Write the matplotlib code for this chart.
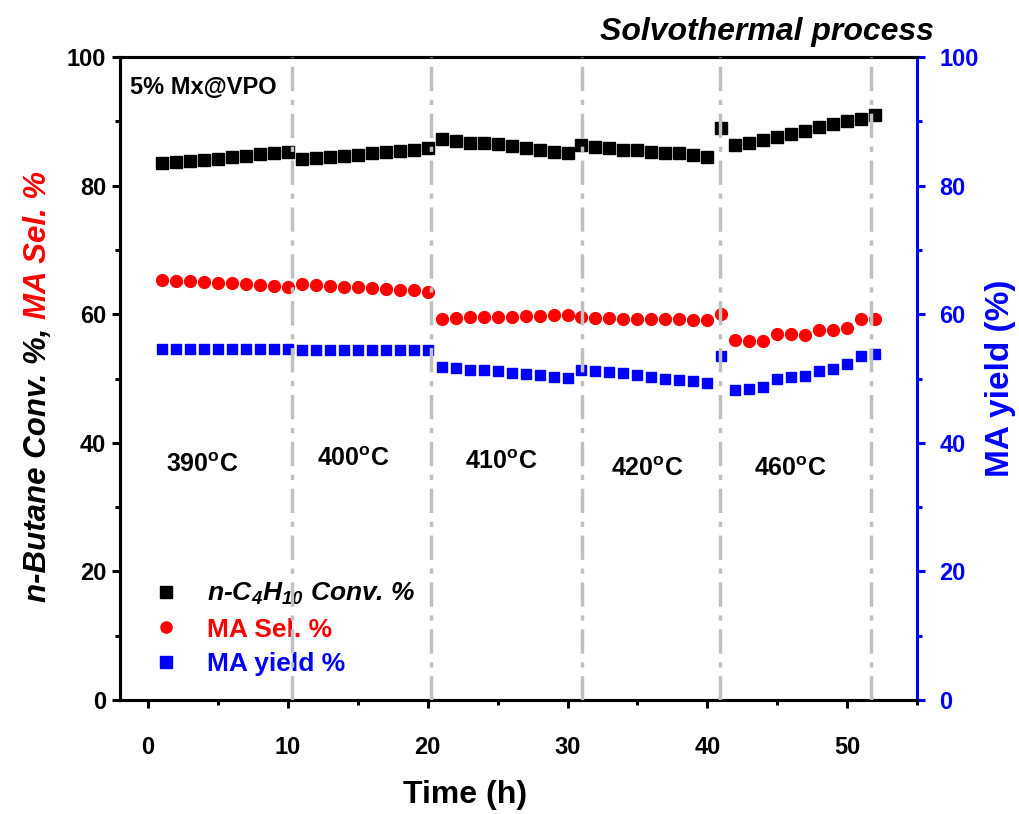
import matplotlib
matplotlib.use("Agg")
import matplotlib.pyplot as plt
from matplotlib.lines import Line2D
from matplotlib.ticker import MultipleLocator

# time on stream (h)
time_h = [1, 2, 3, 4, 5, 6, 7, 8, 9, 10,
          11, 12, 13, 14, 15, 16, 17, 18, 19, 20,
          21, 22, 23, 24, 25, 26, 27, 28, 29, 30,
          31, 32, 33, 34, 35, 36, 37, 38, 39, 40,
          41, 42, 43, 44, 45, 46, 47, 48, 49, 50, 51, 52]

conv = [83.5, 83.7, 83.9, 84.0, 84.2, 84.4, 84.6, 84.9, 85.1, 85.3,
        84.1, 84.3, 84.5, 84.6, 84.8, 85.0, 85.2, 85.4, 85.6, 85.9,
        87.2, 86.9, 86.7, 86.6, 86.4, 86.2, 85.9, 85.6, 85.3, 85.0,
        86.3, 86.0, 85.8, 85.6, 85.5, 85.3, 85.1, 85.0, 84.8, 84.5,
        88.9, 86.3, 86.7, 87.1, 87.6, 88.0, 88.5, 89.1, 89.6, 90.1, 90.3, 90.9]

sel = [65.3, 65.2, 65.1, 65.0, 64.9, 64.8, 64.7, 64.6, 64.4, 64.3,
       64.7, 64.5, 64.4, 64.3, 64.2, 64.0, 63.9, 63.8, 63.7, 63.5,
       59.3, 59.4, 59.5, 59.5, 59.6, 59.6, 59.7, 59.7, 59.8, 59.8,
       59.5, 59.4, 59.4, 59.3, 59.3, 59.2, 59.2, 59.2, 59.1, 59.1,
       60.1, 56.0, 55.9, 55.9, 56.9, 56.9, 56.8, 57.5, 57.6, 57.9, 59.3, 59.2]

yld = [54.6, 54.6, 54.6, 54.6, 54.6, 54.6, 54.6, 54.6, 54.6, 54.6,
       54.4, 54.4, 54.4, 54.4, 54.4, 54.4, 54.4, 54.4, 54.4, 54.5,
       51.8, 51.6, 51.4, 51.3, 51.1, 50.9, 50.7, 50.5, 50.3, 50.1,
       51.4, 51.2, 51.0, 50.8, 50.6, 50.3, 50.0, 49.8, 49.6, 49.3,
       53.5, 48.2, 48.4, 48.7, 49.9, 50.2, 50.4, 51.2, 51.5, 52.3, 53.5, 53.8]

# temperature change markers and labels
switch_h = [10.33, 20.24, 31.06, 40.93, 51.7]
temp_labels = ["390$^{\\mathregular{o}}$C", "400$^{\\mathregular{o}}$C", "410$^{\\mathregular{o}}$C",
               "420$^{\\mathregular{o}}$C", "460$^{\\mathregular{o}}$C"]
temp_x = [3.9, 14.7, 25.3, 35.7, 45.9]
temp_y = [36.6, 37.5, 37.0, 36.0, 36.0]

plt.rcParams['font.family'] = ['Liberation Sans', 'DejaVu Sans']
plt.rcParams['font.weight'] = 'bold'
plt.rcParams['mathtext.default'] = 'regular'

fig = plt.figure(figsize=(10.19, 8.14), dpi=100)
ax1 = fig.add_axes([0.1178, 0.140, 0.7822, 0.790])
ax2 = ax1.twinx()

ax1.plot(time_h, conv, 's', color='black', ms=8, ls='none', zorder=3)
ax1.plot(time_h, sel, 'o', color='#ff0000', ms=8.5, ls='none', zorder=3)
ax2.plot(time_h, yld, 's', color='#0000ff', ms=7.5, ls='none', zorder=3)

for xv in switch_h:
    ax2.axvline(xv, color='#c0c0c0', lw=2.5, ls=(0, (7, 2.5, 1.5, 2.5)), zorder=5)

for lab, xv, yv in zip(temp_labels, temp_x, temp_y):
    ax1.text(xv, yv, lab, ha='center', va='center', fontsize=18, fontweight='bold')

ax1.set_xlim(-2, 55)
ax1.set_ylim(0, 100)
ax2.set_ylim(0, 100)

ax1.xaxis.set_major_locator(MultipleLocator(10))
ax1.xaxis.set_minor_locator(MultipleLocator(5))
ax1.yaxis.set_major_locator(MultipleLocator(20))
ax1.yaxis.set_minor_locator(MultipleLocator(10))
ax2.yaxis.set_major_locator(MultipleLocator(20))
ax2.yaxis.set_minor_locator(MultipleLocator(10))

for ax in (ax1, ax2):
    for s in ax.spines.values():
        s.set_linewidth(2.2)
ax2.spines['right'].set_color('#0000ff')
ax1.spines['right'].set_visible(False)

ax1.tick_params(axis='both', which='major', direction='out', length=6, width=2.2, labelsize=17, pad=4)
ax1.tick_params(axis='both', which='minor', direction='out', length=3.5, width=2.2)
ax1.tick_params(axis='x', pad=20)
ax2.tick_params(axis='y', which='major', direction='out', length=6, width=2.2, labelsize=17,
                colors='#0000ff', pad=10)
ax2.tick_params(axis='y', which='minor', direction='out', length=3.5, width=2.2, colors='#0000ff')

ax1.set_xlabel("Time (h)", fontsize=23, fontweight='bold')
ax1.xaxis.set_label_coords(0.433, -0.124)
ax2.set_ylabel("MA yield (%)", fontsize=24, fontweight='bold', color='#0000ff')
ax2.yaxis.set_label_coords(1.085, 0.5)

# two-coloured left axis label
fig.canvas.draw()
t1 = fig.text(0.037, 1 - 602 / 814, "n-Butane Conv. %, ", rotation=90, ha='center', va='bottom',
              fontsize=22.5, fontweight='bold', style='italic', color='black')
fig.canvas.draw()
bb = t1.get_window_extent()
y_top = bb.y1 / fig.bbox.height
fig.text(0.037, y_top, "MA Sel. %", rotation=90, ha='center', va='bottom',
         fontsize=22.5, fontweight='bold', style='italic', color='#ff0000')

ax1.text(0.012, 0.952, "5% Mx@VPO", transform=ax1.transAxes, ha='left', va='center',
         fontsize=17, fontweight='bold')
fig.text(0.916, 1 - 32 / 814, "Solvothermal process", ha='right', va='center',
         fontsize=23, fontweight='bold', style='italic')

handles = [Line2D([], [], marker='s', color='black', ls='none', ms=8),
           Line2D([], [], marker='o', color='#ff0000', ls='none', ms=8),
           Line2D([], [], marker='s', color='#0000ff', ls='none', ms=8)]
labels = ["n-C$_4$H$_{10}$ Conv. %", "MA Sel. %", "MA yield %"]
leg = ax1.legend(handles, labels, loc='lower left', bbox_to_anchor=(-0.005, 0.0), frameon=False,
                 handletextpad=0.55, labelspacing=0.4, prop={'weight': 'bold', 'size': 19})
leg_colors = ['black', '#ff0000', '#0000ff']
for txt, c in zip(leg.get_texts(), leg_colors):
    txt.set_color(c)
leg.get_texts()[0].set_style('italic')

fig.savefig("out.png", dpi=100)
